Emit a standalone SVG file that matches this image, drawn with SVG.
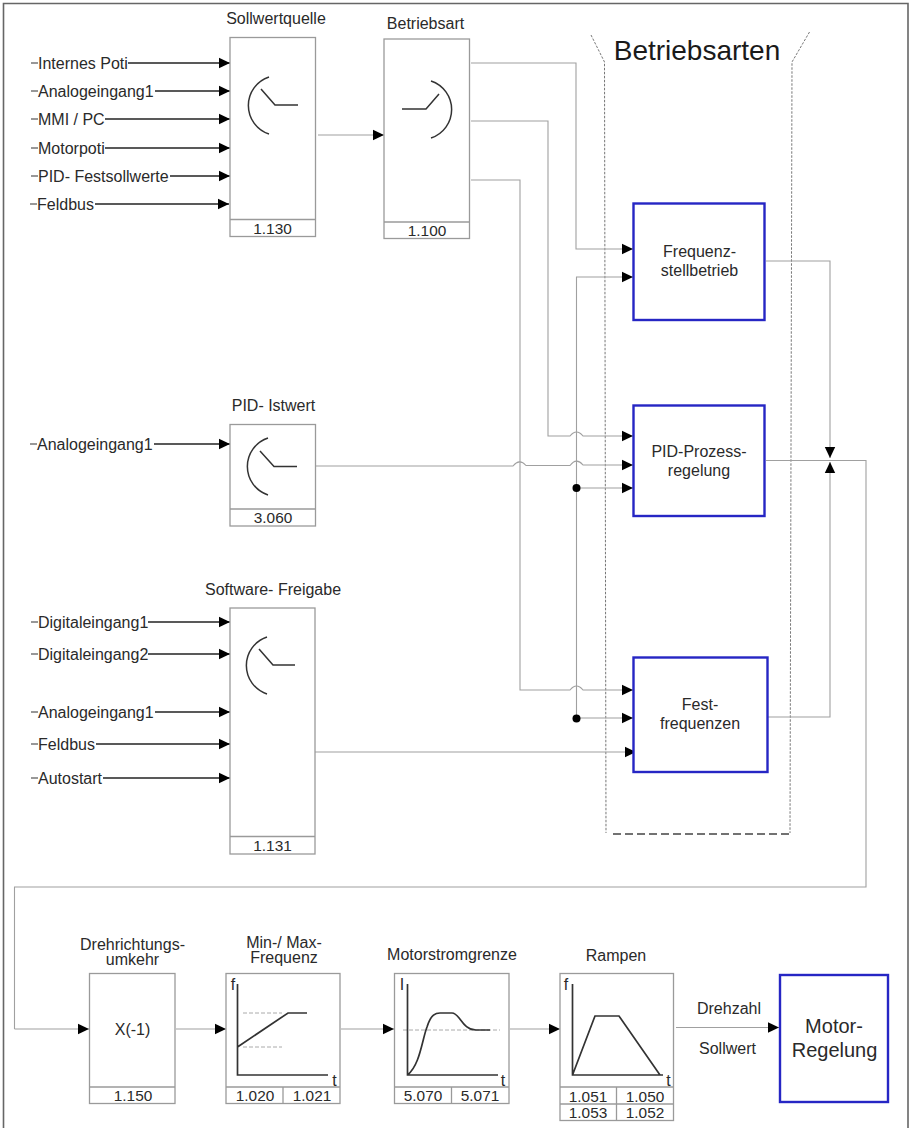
<svg xmlns="http://www.w3.org/2000/svg" width="909" height="1128" viewBox="0 0 909 1128">
<style>
text{font-family:"Liberation Sans",Arial,sans-serif;font-size:16px;fill:#2a2a2a;text-anchor:middle}
text.l{text-anchor:start}
text.n{font-size:15.4px}
text.big{font-size:28px;fill:#1a1a1a}
text.m{font-size:20px}
.b{fill:#fff;stroke:#9a9a9a;stroke-width:1.3}
.d{fill:none;stroke:#9a9a9a;stroke-width:1.3}
.sym{fill:none;stroke:#333;stroke-width:1.5}
.ax{fill:none;stroke:#333;stroke-width:1.7}
.gd{fill:none;stroke:#aaa;stroke-width:1;stroke-dasharray:4 2}
.bl{fill:#fff;stroke:#2626c4;stroke-width:2.4}
.c{fill:none;stroke:#a0a0a0;stroke-width:1.1}
.ca{fill:none;stroke:#a0a0a0;stroke-width:1.1;marker-end:url(#a)}
.cb{fill:none;stroke:#999;stroke-width:1.5}
.i{fill:none;stroke:#222;stroke-width:1.4;marker-end:url(#a)}
.s{fill:none;stroke:#333;stroke-width:1.2}
.dot{fill:#000}
</style>
<defs>
<marker id="a" markerUnits="userSpaceOnUse" markerWidth="12" markerHeight="12" refX="11" refY="6" orient="auto"><path d="M0 0.800L11 6L0 11.200Z" fill="#000"/></marker>
</defs>
<rect width="909" height="1128" fill="#fff"/>
<path id="frame" d="M3.500 1128V3.500H908V1128" fill="none" stroke="#666" stroke-width="1.6"/>

<g id="betriebsarten-frame">
<path d="M591 35L604.500 62L606 833M809.500 32L792 62L790 833" fill="none" stroke="#777" stroke-width="1" stroke-dasharray="2.500 1.500"/>
<path d="M613 834H790" fill="none" stroke="#444" stroke-width="1.400" stroke-dasharray="8 4"/>
<text class="big" x="697" y="60">Betriebsarten</text>
</g>

<g id="connectors">
<path class="s" d="M31 63H38M31 91H38M31 119H38M31 148H38M31 176H38M30 204H37M30 444H37M31 622H38M31 654H38M31 712H38M31 744H38M31 778H38"/>
<path class="i" d="M128 63H230"/><path class="i" d="M155 91H230"/><path class="i" d="M105 119H230"/><path class="i" d="M105 148H230"/><path class="i" d="M170 176H230"/><path class="i" d="M95 204H229"/>
<path class="i" d="M154 444H230"/>
<path class="i" d="M148 622H230"/><path class="i" d="M148 654H230"/><path class="i" d="M155 712H230"/><path class="i" d="M96 744H230"/><path class="i" d="M103 778H230"/>
<path class="ca" d="M318 135H384"/>
<path class="ca" d="M471 63H576V249H633"/>
<path class="ca" d="M471 121H548V436H570Q576.500 428 583 436H633"/>
<path class="ca" d="M471 180H520V690H570Q576.500 682 583 690H633"/>
<path class="ca" d="M576.500 718V277H633"/>
<path class="ca" d="M576.500 718H633"/>
<path class="ca" d="M576.500 488H633"/>
<path class="ca" d="M316 466H513Q519.500 458 526 465.500H570Q576.500 457 583 465H633"/>
<path class="ca" d="M315 752H636"/>
<path class="ca" d="M766 261H830V458"/>
<path class="ca" d="M767 717H830V462"/>
<path class="c" d="M766 460.500H866V887H14.500V1029"/>
<path class="ca" d="M14.500 1029H89"/>
<path class="ca" d="M176 1029H226"/>
<path class="ca" d="M341 1029H394"/>
<path class="ca" d="M510 1029H560"/>
<path class="ca" d="M676 1027.500H779"/>
<circle class="dot" cx="576.500" cy="488" r="4"/>
<circle class="dot" cx="576.500" cy="718.500" r="4"/>
</g>

<g id="inputs">
<text class="l" x="38" y="68.500">Internes Poti</text>
<text class="l" x="38" y="96.500">Analogeingang1</text>
<text class="l" x="38" y="124.500">MMI / PC</text>
<text class="l" x="38" y="153.500">Motorpoti</text>
<text class="l" x="38" y="181.500">PID- Festsollwerte</text>
<text class="l" x="37" y="209.500">Feldbus</text>
<text class="l" x="37" y="449.500">Analogeingang1</text>
<text class="l" x="38" y="627.500">Digitaleingang1</text>
<text class="l" x="38" y="659.500">Digitaleingang2</text>
<text class="l" x="38" y="717.500">Analogeingang1</text>
<text class="l" x="38" y="749.500">Feldbus</text>
<text class="l" x="38" y="783.500">Autostart</text>
</g>

<g id="sollwertquelle">
<text x="276" y="24">Sollwertquelle</text>
<rect class="b" x="230" y="37.500" width="85.500" height="199"/><path class="d" d="M230 219.500H315.500"/>
<path class="sym" d="M269 77A30 30 0 0 0 269 134M261 89L275 105H298"/>
<text class="n" x="272.500" y="234">1.130</text>
</g>
<g id="betriebsart">
<text x="425.500" y="28.500">Betriebsart</text>
<rect class="b" x="384" y="39" width="85.500" height="199.500"/><path class="d" d="M384 222H469.500"/>
<path class="sym" d="M431 81A30 30 0 0 1 431 138M402 109H426L439 94"/>
<text class="n" x="427" y="236">1.100</text>
</g>
<g id="pid-istwert">
<text x="273.500" y="411">PID- Istwert</text>
<rect class="b" x="230" y="424.500" width="85.500" height="101.500"/><path class="d" d="M230 509H315.500"/>
<path class="sym" d="M268 438A30 30 0 0 0 268 495M260 451L274 466.500H297"/>
<text class="n" x="273" y="523">3.060</text>
</g>
<g id="software-freigabe">
<text x="273" y="595">Software- Freigabe</text>
<rect class="b" x="230" y="608" width="85" height="246"/><path class="d" d="M230 836.500H315"/>
<path class="sym" d="M267 637A30 30 0 0 0 267 694M259 649L273 665H295"/>
<text class="n" x="272.500" y="851">1.131</text>
</g>

<g id="frequenzstellbetrieb">
<rect class="bl" x="633.500" y="203.500" width="131" height="116.500"/>
<text x="699.500" y="257">Frequenz-</text><text x="699.500" y="276">stellbetrieb</text>
</g>
<g id="pid-prozessregelung">
<rect class="bl" x="633.500" y="405.500" width="131" height="110.500"/>
<text x="699" y="457">PID-Prozess-</text><text x="699" y="476">regelung</text>
</g>
<g id="festfrequenzen">
<rect class="bl" x="633.500" y="657.500" width="134" height="114.500"/>
<text x="700" y="710">Fest-</text><text x="700" y="729">frequenzen</text>
</g>

<g id="drehrichtungsumkehr">
<text x="132.500" y="950">Drehrichtungs-</text><text x="132.500" y="965">umkehr</text>
<rect class="b" x="89.500" y="973.500" width="85.500" height="130"/><path class="d" d="M89.500 1087H175"/>
<text x="132.500" y="1035">X(-1)</text>
<text class="n" x="133" y="1100.500">1.150</text>
</g>
<g id="min-max-frequenz">
<text x="284" y="948">Min-/ Max-</text><text x="284" y="963">Frequenz</text>
<rect class="b" x="226" y="973.500" width="114" height="130"/><path class="d" d="M226 1087H340M283 1087V1103.500"/>
<path class="ax" d="M237.500 984V1075H328M237.500 1047L288 1013H307"/>
<path class="gd" d="M243 1013H282M243 1047H282"/>
<text x="233" y="990">f</text><text x="334.500" y="1086">t</text>
<text class="n" x="255" y="1100.500">1.020</text><text class="n" x="312" y="1100.500">1.021</text>
</g>
<g id="motorstromgrenze">
<text x="452" y="960">Motorstromgrenze</text>
<rect class="b" x="394.500" y="973.500" width="114.500" height="130"/><path class="d" d="M394.500 1087H509M451.500 1087V1103.500"/>
<path class="gd" d="M403 1030H500"/>
<path class="ax" d="M407.500 984V1075H498M407.500 1075C420 1065 422 1040 427 1027C431 1014 436 1013 440 1013H452C460 1013 462 1030 476 1030H490"/>
<text x="402" y="990">I</text><text x="503" y="1086">t</text>
<text class="n" x="423" y="1100.500">5.070</text><text class="n" x="480" y="1100.500">5.071</text>
</g>
<g id="rampen">
<text x="616" y="961">Rampen</text>
<rect class="b" x="560" y="973.500" width="113.500" height="147"/><path class="d" d="M560 1087H673.500M560 1104H673.500M616.500 1087V1120.500"/>
<path class="ax" d="M572.500 984V1075H663M572.500 1075L595 1016H619L660 1075"/>
<text x="566" y="990">f</text><text x="668.500" y="1086">t</text>
<text class="n" x="588" y="1101.500">1.051</text><text class="n" x="645" y="1101.500">1.050</text>
<text class="n" x="588" y="1118">1.053</text><text class="n" x="645" y="1118">1.052</text>
</g>
<g id="drehzahl-sollwert">
<text x="729" y="1014">Drehzahl</text><text x="727.500" y="1054">Sollwert</text>
</g>
<g id="motor-regelung">
<rect class="bl" x="780" y="975" width="108" height="127"/>
<text class="m" x="834" y="1033">Motor-</text><text class="m" x="834.500" y="1057">Regelung</text>
</g>
</svg>
